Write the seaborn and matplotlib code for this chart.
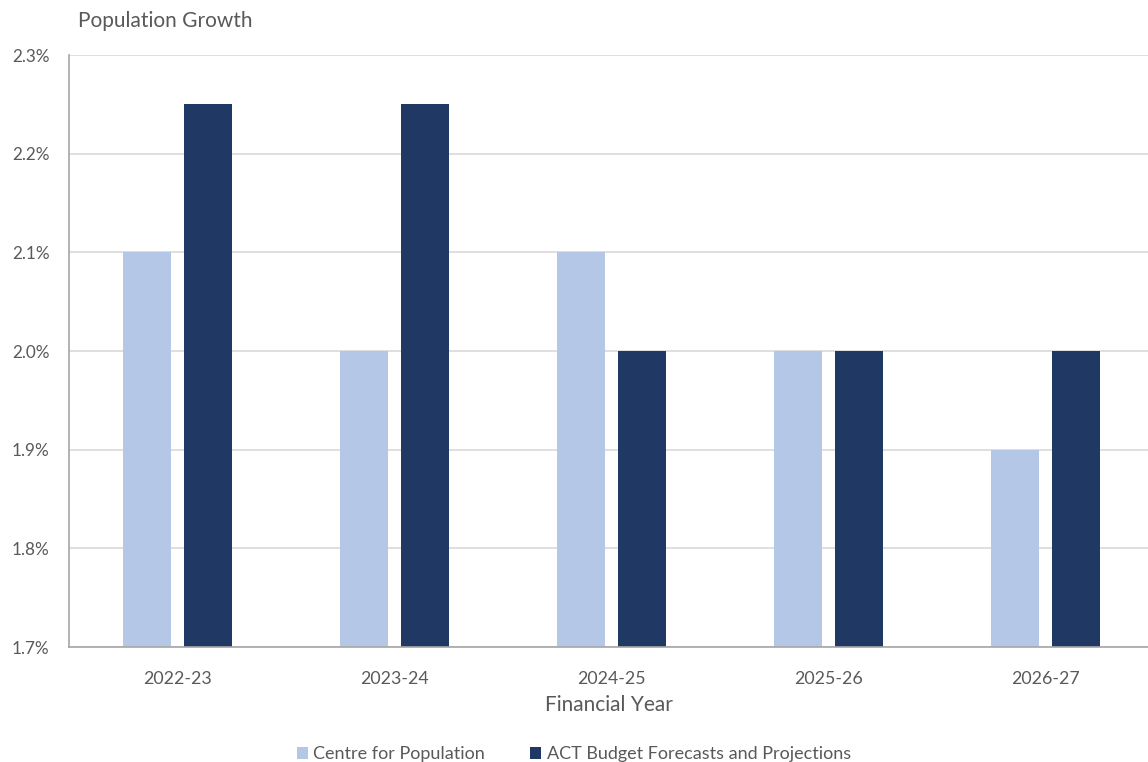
import matplotlib
matplotlib.use("Agg")
import matplotlib.pyplot as plt
import seaborn as sns
import pandas as pd
from matplotlib.ticker import FuncFormatter, MultipleLocator

years = ["2022-23", "2023-24", "2024-25", "2025-26", "2026-27"]
centre_for_population = [2.1, 2.0, 2.1, 2.0, 1.9]
act_budget = [2.25, 2.25, 2.0, 2.0, 2.0]
series_names = ["Centre for Population", "ACT Budget Forecasts and Projections"]

df = pd.DataFrame({
    "year": years * 2,
    "growth": centre_for_population + act_budget,
    "series": [series_names[0]] * len(years) + [series_names[1]] * len(years),
})

sns.set_theme(style="white")
plt.rcParams["font.family"] = ["Lato", "DejaVu Sans"]
text_grey = "#595959"

fig = plt.figure(figsize=(11.48, 7.62), dpi=100)
ax = fig.add_axes([0.0601, 0.1509, 0.9399, 0.7769])

sns.barplot(
    data=df, x="year", y="growth", hue="series", hue_order=series_names,
    palette=["#B4C7E7", "#203864"], width=0.567, gap=0.22,
    saturation=1, linewidth=0, ax=ax, legend=True,
)

ax.set_ylim(1.7, 2.3)
ax.set_xlim(-0.5, 4.472)
ax.yaxis.set_major_locator(MultipleLocator(0.1))
ax.yaxis.set_major_formatter(FuncFormatter(lambda v, _: f"{v:.1f}%"))
ax.grid(axis="y", color="#D9D9D9", linewidth=1.2)
ax.set_axisbelow(True)

for side in ["top", "right"]:
    ax.spines[side].set_visible(False)
for side in ["left", "bottom"]:
    ax.spines[side].set_color("#A6A6A6")
    ax.spines[side].set_linewidth(1.2)

ax.tick_params(axis="x", length=0, labelsize=12.8, labelcolor=text_grey, pad=17)
ax.tick_params(axis="y", length=0, labelsize=12.3, labelcolor=text_grey, pad=14)
ax.set_xlabel("Financial Year", fontsize=15, color=text_grey, labelpad=6)
ax.set_ylabel("")
fig.text(0.068, 0.973, "Population Growth", fontsize=15, color=text_grey,
         ha="left", va="center")

handles, labels = ax.get_legend_handles_labels()
ax.legend_.remove()
fig.legend(handles, labels, loc="center", bbox_to_anchor=(0.5, 0.01),
           ncol=2, frameon=False, fontsize=13, labelcolor=text_grey,
           handlelength=0.6, handleheight=0.6, handletextpad=0.3,
           columnspacing=2.5)

fig.savefig("out.png", dpi=100)
